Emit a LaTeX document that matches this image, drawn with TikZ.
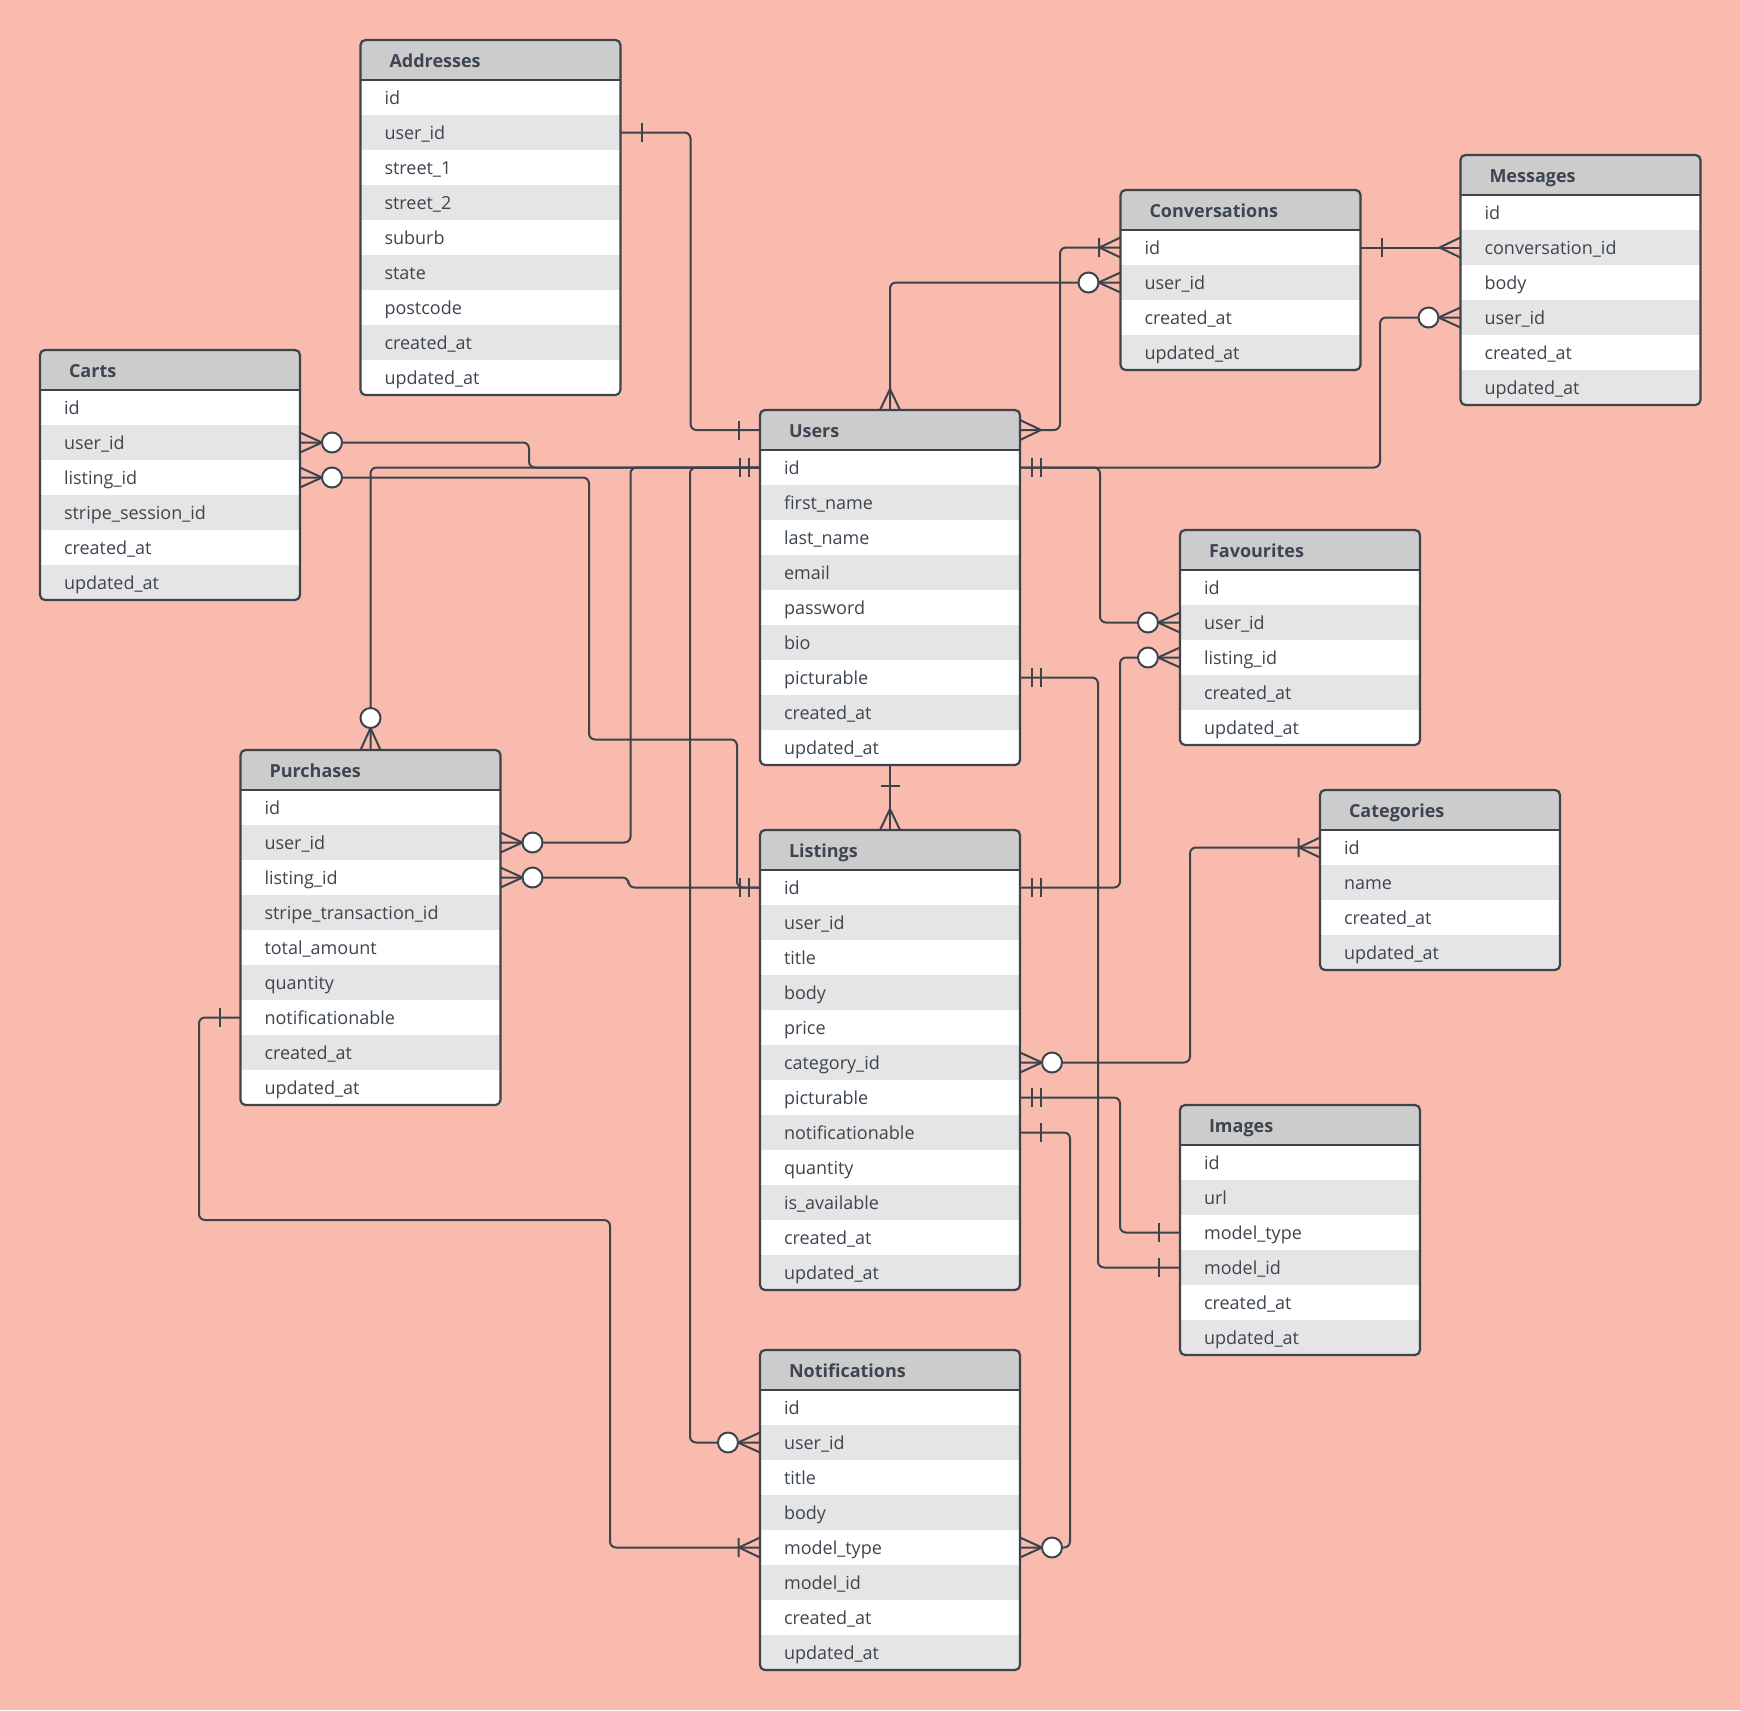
\documentclass[tikz,border=0pt]{standalone}
\usepackage{fontspec}
\setmainfont{Open Sans}
\usepackage{xcolor}
\usepackage{tikz}
\definecolor{bgpink}{HTML}{F8BBAE}
\definecolor{headgray}{HTML}{CCCCCC}
\definecolor{rowgray}{HTML}{E5E5E5}
\definecolor{linec}{HTML}{3D434B}
\definecolor{textc}{HTML}{3D4550}
\catcode`\_=12
% #1 name, #2 title, #3 top left corner, #4 width (pt), #5 fields
\newcommand{\ertable}[5]{%
  \pgfmathsetmacro{\tw}{#4-24}
  \pgfmathsetmacro{\hw}{#4-29}
  \node[tablehead, text width=\hw pt] (#1) at #3 {#2};
  \foreach \f [count=\i] in {#5} {
    \ifodd\i \def\rowfill{white}\else \def\rowfill{rowgray}\fi
    \node[tablerow, fill=\rowfill, text width=\tw pt, yshift={-(\i-1)*17.5pt}] (#1-\f) at (#1.south west) {\f};
    \xdef\lastrow{#1-\f}
  }
  \draw[tableline] (#1.south west) -- (#1.south east);
  \draw[tableframe] (#1.north west) rectangle (\lastrow.south east);
}

\begin{document}
\begin{tikzpicture}[x=0.5pt,y=-0.5pt,
  tablehead/.style={anchor=north west, fill=headgray, minimum height=20pt, inner xsep=14.5pt, inner ysep=0pt, outer sep=0pt,
    text height=8pt, text depth=1pt, align=left, text=textc, font=\fontsize{9}{11}\selectfont\bfseries},
  tablerow/.style={anchor=north west, minimum height=17.5pt, inner xsep=12pt, inner ysep=0pt, outer sep=0pt,
    text height=8pt, text depth=1pt, align=left, text=textc, font=\fontsize{9}{11}\selectfont},
  tableline/.style={draw=linec, line width=1.3pt},
  tableframe/.style={draw=linec, line width=1.1pt, rounded corners=2.5pt},
  link/.style={draw=linec, line width=1pt, rounded corners=3pt},
  many/.pic={\draw[linec, line width=1pt] (10.5pt,0) -- (0,5pt) (10.5pt,0) -- (0,-5pt);},
  one/.pic={\draw[linec, line width=1pt] (10.5pt,-4.75pt) -- (10.5pt,4.75pt);},
  onlyone/.pic={\draw[linec, line width=1pt] (5.75pt,-4.75pt) -- (5.75pt,4.75pt) (10.25pt,-4.75pt) -- (10.25pt,4.75pt);},
  onemany/.pic={\draw[linec, line width=1pt] (10.5pt,0) -- (0,5pt) (10.5pt,0) -- (0,-5pt) (10.75pt,-4.75pt) -- (10.75pt,4.75pt);},
  zeromany/.pic={\draw[linec, line width=1pt] (11pt,0) -- (0,5pt) (11pt,0) -- (0,-5pt);
    \draw[linec, line width=1pt, fill=white] (16pt,0) circle[radius=5pt];}]
  \fill[bgpink] (0,0) rectangle (1740,1710);

  % tables
  \ertable{addresses}{Addresses}{(360.5,40)}{130}{id,user_id,street_1,street_2,suburb,state,postcode,created_at,updated_at}
  \ertable{carts}{Carts}{(40,350)}{130}{id,user_id,listing_id,stripe_session_id,created_at,updated_at}
  \ertable{users}{Users}{(760,410)}{130}{id,first_name,last_name,email,password,bio,picturable,created_at,updated_at}
  \ertable{conversations}{Conversations}{(1120.5,190)}{120}{id,user_id,created_at,updated_at}
  \ertable{messages}{Messages}{(1460.5,155)}{120}{id,conversation_id,body,user_id,created_at,updated_at}
  \ertable{favourites}{Favourites}{(1180,530)}{120}{id,user_id,listing_id,created_at,updated_at}
  \ertable{categories}{Categories}{(1320,790)}{120}{id,name,created_at,updated_at}
  \ertable{purchases}{Purchases}{(240.5,750)}{130}{id,user_id,listing_id,stripe_transaction_id,total_amount,quantity,notificationable,created_at,updated_at}
  \ertable{listings}{Listings}{(760,830)}{130}{id,user_id,title,body,price,category_id,picturable,notificationable,quantity,is_available,created_at,updated_at}
  \ertable{images}{Images}{(1180,1105)}{120}{id,url,model_type,model_id,created_at,updated_at}
  \ertable{notifications}{Notifications}{(760,1350)}{130}{id,user_id,title,body,model_type,model_id,created_at,updated_at}

  % connectors
  \draw[link] (addresses-user_id.east) -- ++(70,0) |- (users.west);
  \draw[link] (carts-user_id.east) -- ++(229,0) |- (users-id.west);
  \draw[link] (carts-listing_id.east) -- ++(289,0) -- ++(0,262) -| ([xshift=-11.5pt]listings-id.west) -- (listings-id.west);
  \draw[link] (purchases.north) |- (users-id.west);
  \draw[link] (purchases-user_id.east) -- ++(130,0) |- (users-id.west);
  \draw[link] (purchases-listing_id.east) -- ++(128,0) |- (listings-id.west);
  \draw[link] (purchases-notificationable.west) -- ++(-41.5,0) -- ++(0,202.5) -| ([xshift=-75pt]notifications-model_type.west) -- (notifications-model_type.west);
  \draw[link] (notifications-user_id.west) -- ++(-70,0) |- (users-id.west);
  \draw[link] (users.east) -- ++(40,0) |- (conversations-id.west);
  \draw[link] (users.north) |- (conversations-user_id.west);
  \draw[link] (conversations-id.east) -- (messages-conversation_id.west);
  \draw[link] (users-id.east) -- ++(360,0) |- (messages-user_id.west);
  \draw[link] (users-id.east) -- ++(80,0) |- (favourites-user_id.west);
  \draw[link] (listings-id.east) -- ++(100,0) |- (favourites-listing_id.west);
  \draw[link] (users-picturable.east) -- ++(78,0) |- (images-model_id.west);
  \draw[link] (listings-picturable.east) -- ++(100,0) |- (images-model_type.west);
  \draw[link] (listings-category_id.east) -- ++(170,0) |- (categories-id.west);
  \draw[link] (listings-notificationable.east) -- ++(50,0) |- (notifications-model_type.east);
  \draw[link] (users-updated_at.south) -- (listings.north);

  % line ends
  \pic at (addresses-user_id.east) {one};
  \pic[rotate=180] at (users.west) {one};
  \pic at (carts-user_id.east) {zeromany};
  \pic at (carts-listing_id.east) {zeromany};
  \pic[rotate=180] at (users-id.west) {onlyone};
  \pic[rotate=180] at (listings-id.west) {onlyone};
  \pic[rotate=90] at (purchases.north) {zeromany};
  \pic at (purchases-user_id.east) {zeromany};
  \pic at (purchases-listing_id.east) {zeromany};
  \pic[rotate=180] at (purchases-notificationable.west) {one};
  \pic[rotate=180] at (notifications-model_type.west) {onemany};
  \pic[rotate=180] at (notifications-user_id.west) {zeromany};
  \pic at (users.east) {many};
  \pic[rotate=180] at (conversations-id.west) {onemany};
  \pic[rotate=90] at (users.north) {many};
  \pic[rotate=180] at (conversations-user_id.west) {zeromany};
  \pic at (conversations-id.east) {one};
  \pic[rotate=180] at (messages-conversation_id.west) {many};
  \pic at (users-id.east) {onlyone};
  \pic[rotate=180] at (messages-user_id.west) {zeromany};
  \pic[rotate=180] at (favourites-user_id.west) {zeromany};
  \pic at (listings-id.east) {onlyone};
  \pic[rotate=180] at (favourites-listing_id.west) {zeromany};
  \pic at (users-picturable.east) {onlyone};
  \pic[rotate=180] at (images-model_id.west) {one};
  \pic at (listings-picturable.east) {onlyone};
  \pic[rotate=180] at (images-model_type.west) {one};
  \pic at (listings-category_id.east) {zeromany};
  \pic[rotate=180] at (categories-id.west) {onemany};
  \pic at (listings-notificationable.east) {one};
  \pic at (notifications-model_type.east) {zeromany};
  \pic[rotate=-90] at (users-updated_at.south) {one};
  \pic[rotate=90] at (listings.north) {many};
\end{tikzpicture}
\end{document}
